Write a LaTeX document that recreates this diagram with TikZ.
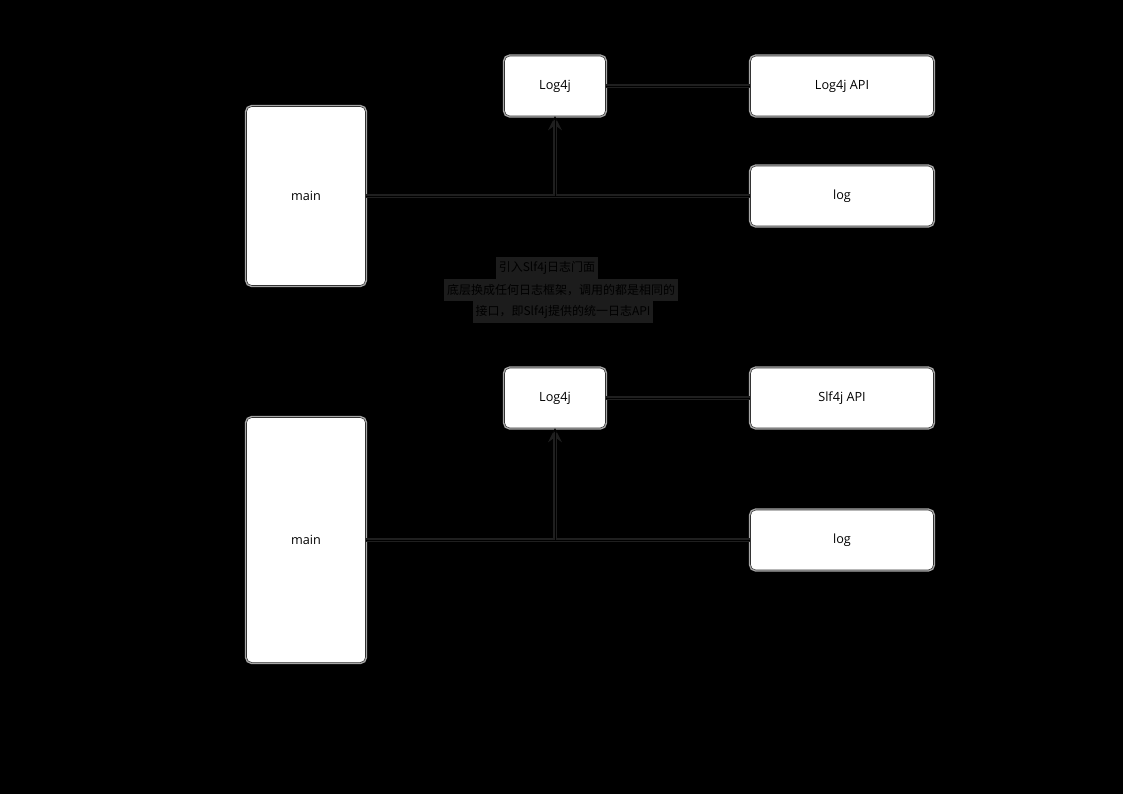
\documentclass[tikz,border=0pt]{standalone}
\usepackage{fontspec}
\setmainfont{Open Sans}
\newfontfamily\cjk{Noto Sans CJK SC}
\usetikzlibrary{arrows, positioning}

\begin{document}
\begin{tikzpicture}[
        x=0.75pt, y=-0.75pt, >=stealth,
        box/.style={draw=black!80, fill=white, rounded corners=4pt, inner sep=0pt,
            preaction={draw=black!35, line width=2.5pt},
            font=\fontsize{9.5}{11}\selectfont},
        small/.style={box, minimum width=75.75pt, minimum height=45pt},
        wide/.style={box, minimum width=137.25pt, minimum height=45pt},
        link/.style={draw=black, line width=0.6pt,
            preaction={draw=black!88, line width=3.5pt}},
        note/.style={fill=black!89, text=black, inner xsep=2pt, minimum height=16.5pt,
            font=\cjk\fontsize{9}{11}\selectfont}
    ]
        % background
        \fill[black] (0,0) rectangle (1123,794);

        % upper part: main calls log4j directly
        \node [box, minimum width=89.25pt, minimum height=134.25pt] (main1) at (306,196) {main};
        \node [small] (log4j1) at (555,86) {Log4j};
        \node [wide] (api1) at (842,86) {Log4j API};
        \node [wide] (log1) at (842,196) {log};
        \coordinate (j1) at (log4j1.south |- main1.east);

        \draw[link] (main1.east) -- (log1.west);
        \draw[link, ->] (j1) -- (log4j1.south);
        \draw[link] (log4j1.east) -- (api1.west);

        % note in the middle
        \node [note] (n1) at (547,268) {引入Slf4j日志门面};
        \node [note] (n2) at (561,290) {底层换成任何日志框架，调用的都是相同的};
        \node [note] (n3) at (563,312) {接口，即Slf4j提供的统一日志API};

        % lower part: main calls through slf4j
        \node [box, minimum width=89.25pt, minimum height=183.75pt] (main2) at (306,540) {main};
        \node [small] (log4j2) at (555,398) {Log4j};
        \node [wide] (api2) at (842,398) {Slf4j API};
        \node [wide] (log2) at (842,540) {log};
        \coordinate (j2) at (log4j2.south |- main2.east);

        \draw[link] (main2.east) -- (log2.west);
        \draw[link, ->] (j2) -- (log4j2.south);
        \draw[link] (log4j2.east) -- (api2.west);
    \end{tikzpicture}
\end{document}
